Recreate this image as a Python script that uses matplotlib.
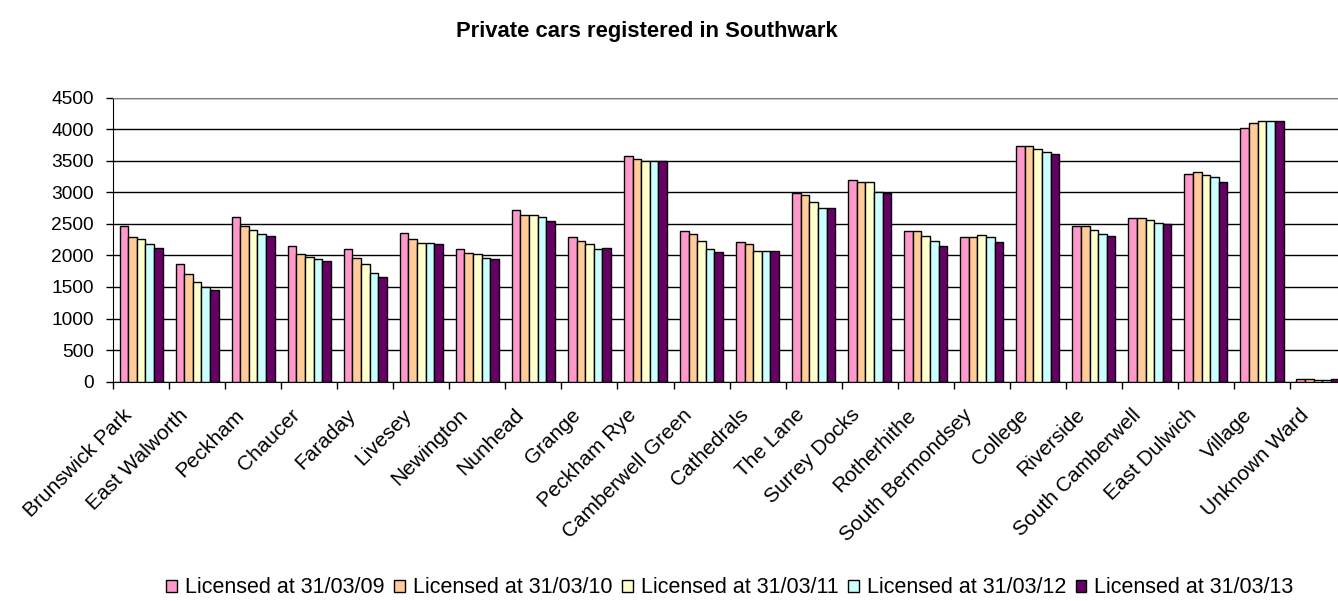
import matplotlib
matplotlib.use("Agg")
import matplotlib.pyplot as plt
from matplotlib.transforms import ScaledTranslation
import numpy as np

plt.rcParams['font.family'] = ['Liberation Sans', 'DejaVu Sans']

wards = ["Brunswick Park", "East Walworth", "Peckham", "Chaucer", "Faraday",
         "Livesey", "Newington", "Nunhead", "Grange", "Peckham Rye",
         "Camberwell Green", "Cathedrals", "The Lane", "Surrey Docks",
         "Rotherhithe", "South Bermondsey", "College", "Riverside",
         "South Camberwell", "East Dulwich", "Village", "Unknown Ward"]

lic_2009 = [2460, 1865, 2615, 2150, 2100, 2360, 2100, 2720, 2285, 3580, 2390,
            2205, 2985, 3190, 2390, 2285, 3740, 2460, 2595, 3295, 4025, 42]
lic_2010 = [2285, 1705, 2460, 2020, 1965, 2255, 2045, 2640, 2235, 3535, 2335,
            2175, 2960, 3170, 2390, 2285, 3740, 2460, 2595, 3320, 4105, 42]
lic_2011 = [2255, 1575, 2410, 1970, 1860, 2200, 2020, 2640, 2175, 3500, 2235,
            2070, 2850, 3170, 2310, 2330, 3685, 2410, 2565, 3275, 4130, 20]
lic_2012 = [2175, 1500, 2335, 1945, 1725, 2200, 1965, 2615, 2095, 3500, 2095,
            2070, 2750, 3005, 2235, 2285, 3635, 2335, 2520, 3245, 4130, 20]
lic_2013 = [2125, 1445, 2310, 1915, 1655, 2175, 1945, 2540, 2125, 3500, 2050,
            2070, 2750, 2985, 2155, 2210, 3605, 2310, 2495, 3170, 4130, 42]

series = [lic_2009, lic_2010, lic_2011, lic_2012, lic_2013]
series_labels = ["Licensed at 31/03/09", "Licensed at 31/03/10",
                 "Licensed at 31/03/11", "Licensed at 31/03/12",
                 "Licensed at 31/03/13"]
colors = ["#FF99CC", "#FFCC99", "#FFFFCC", "#CCFFFF", "#660066"]

fig = plt.figure(figsize=(13.38, 6.01), dpi=100)
ax = fig.add_axes([0.0845, 0.365, 0.9215, 0.4725])

n = len(series)
x = np.arange(len(wards))
bar_w = 1.0 / (n + 1.5)
for i, (vals, lab, col) in enumerate(zip(series, series_labels, colors)):
    offs = (i - (n - 1) / 2) * bar_w
    ax.bar(x + offs, vals, width=bar_w, color=col, edgecolor="black",
           linewidth=1.0, label=lab, zorder=3)

ax.set_xlim(-0.5, len(wards) - 0.5)
ax.set_ylim(0, 4500)
ax.set_yticks(np.arange(0, 4501, 500))
ax.yaxis.grid(True, color="black", linewidth=1.0, zorder=0)
ax.set_axisbelow(True)

# category boundaries carry the tick marks, names sit at group centres
ax.set_xticks(np.arange(-0.5, len(wards), 1.0))
ax.set_xticklabels([])
ax.set_xticks(x, minor=True)
ax.set_xticklabels(wards, minor=True, rotation=45, ha="right", va="top",
                   rotation_mode="anchor", fontsize=15)
ax.tick_params(axis="x", which="minor", length=0, pad=17)
ax.tick_params(axis="x", which="major", length=5, width=1, color="black")
ax.tick_params(axis="y", length=5, width=1, labelsize=13.8, pad=9)

shift = ScaledTranslation(-19 / 100, 0, fig.dpi_scale_trans)
for lbl in ax.get_xticklabels(minor=True):
    lbl.set_transform(lbl.get_transform() + shift)

ax.spines["right"].set_visible(False)
ax.spines["top"].set_color("#808080")
ax.spines["left"].set_color("black")
ax.spines["bottom"].set_color("black")

fig.suptitle("Private cars registered in Southwark", x=0.4836, y=0.965,
             fontsize=15.8, fontweight="bold")

fig.legend(loc="center", bbox_to_anchor=(0.5455, 0.022), ncol=5,
           frameon=False, fontsize=15.5, handlelength=0.5, handleheight=0.5,
           handletextpad=0.37, columnspacing=0.45, borderpad=0)

fig.savefig("out.png", dpi=100)
